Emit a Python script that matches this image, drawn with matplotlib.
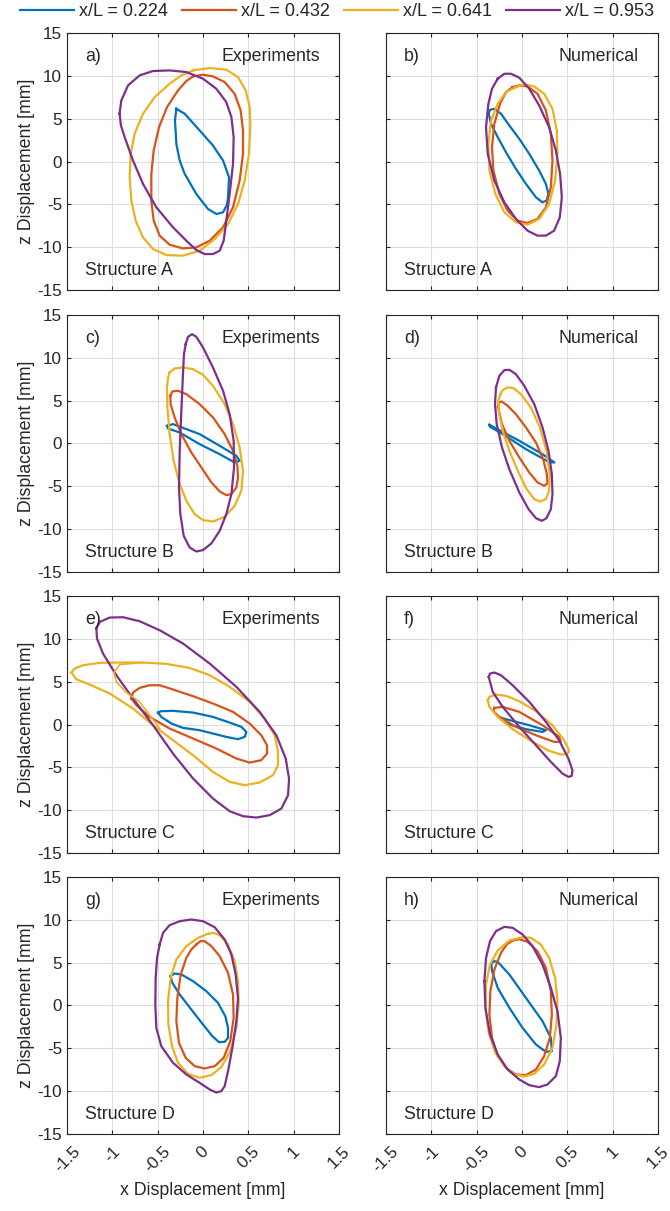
import numpy as np
import matplotlib.pyplot as plt
from matplotlib.lines import Line2D

plt.rcParams['font.family'] = ['Liberation Sans', 'DejaVu Sans']

series_labels = ['x/L = 0.224', 'x/L = 0.432', 'x/L = 0.641', 'x/L = 0.953']
series_colors = ['#0072BD', '#D95319', '#EDB120', '#7E2F8E']
panel_tags = ['a)', 'b)', 'c)', 'd)', 'e)', 'f)', 'g)', 'h)']
structures = ['Structure A', 'Structure B', 'Structure C', 'Structure D']
xtick_vals = [-1.5, -1, -0.5, 0, 0.5, 1, 1.5]
xtick_text = ['-1.5', '-1', '-0.5', '0', '0.5', '1', '1.5']
ytick_vals = [-15, -10, -5, 0, 5, 10, 15]
ytick_text = ['-15', '-10', '-5', '0', '5', '10', '15']

# orbit points (x [mm], z [mm])
# structure A, experiments
a_224 = [(-0.294, 6.16), (-0.202, 5.58), (-0.037, 3.63), (0.110, 1.87), (0.221, 0.12), (0.287, -1.83),
         (0.276, -4.17), (0.265, -5.03), (0.221, -5.93), (0.147, -6.12), (0.055, -5.54), (-0.074, -3.78),
         (-0.202, -1.44), (-0.257, 0.12), (-0.294, 2.07), (-0.309, 4.80)]
a_432 = [(-0.110, 9.94), (0.000, 10.14), (0.110, 9.94), (0.239, 9.28), (0.349, 7.91), (0.415, 5.97),
         (0.441, 3.63), (0.441, 0.90), (0.404, -2.22), (0.331, -5.34), (0.221, -7.68), (0.074, -9.24),
         (-0.074, -10.02), (-0.221, -10.14), (-0.368, -9.71), (-0.478, -8.65), (-0.544, -6.90), (-0.570, -4.56),
         (-0.570, -1.44), (-0.544, 1.29), (-0.485, 4.02), (-0.397, 6.35), (-0.276, 8.30), (-0.184, 9.40)]
a_641 = [(-0.110, 10.64), (0.074, 10.92), (0.257, 10.72), (0.386, 9.86), (0.471, 8.30), (0.515, 6.35),
         (0.522, 4.02), (0.507, 0.90), (0.460, -2.22), (0.386, -4.95), (0.276, -7.29), (0.129, -9.05),
         (-0.037, -10.41), (-0.221, -10.99), (-0.404, -10.92), (-0.551, -10.21), (-0.662, -8.85), (-0.743, -6.90),
         (-0.790, -4.56), (-0.809, -1.83), (-0.798, 0.90), (-0.754, 3.24), (-0.662, 5.58), (-0.533, 7.52),
         (-0.368, 9.08), (-0.239, 10.06)]
a_953 = [(-0.920, 5.60), (-0.901, 7.13), (-0.827, 8.89), (-0.699, 10.06), (-0.551, 10.57), (-0.368, 10.64),
         (-0.184, 10.45), (0.000, 9.67), (0.147, 8.50), (0.257, 6.94), (0.313, 5.19), (0.338, 2.85),
         (0.331, -0.27), (0.294, -3.78), (0.257, -6.90), (0.228, -9.24), (0.184, -10.41), (0.110, -10.80),
         (0.018, -10.80), (-0.074, -10.33), (-0.184, -9.24), (-0.331, -7.68), (-0.515, -5.34), (-0.662, -2.61),
         (-0.772, 0.12), (-0.864, 2.85), (-0.905, 4.20)]
# structure A, numerical
b_224 = [(-0.366, 5.58), (-0.352, 6.04), (-0.304, 6.16), (-0.231, 5.58), (-0.139, 4.21), (-0.029, 2.65),
         (0.081, 0.90), (0.190, -1.05), (0.264, -2.61), (0.293, -3.78), (0.271, -4.56), (0.227, -4.76),
         (0.154, -4.17), (0.044, -2.61), (-0.066, -0.86), (-0.176, 1.09), (-0.267, 2.85), (-0.341, 4.41)]
b_432 = [(-0.103, 8.69), (-0.029, 8.89), (0.062, 8.77), (0.172, 7.91), (0.264, 5.97), (0.319, 3.24),
         (0.337, 0.12), (0.319, -3.00), (0.264, -5.34), (0.172, -6.70), (0.062, -7.17), (-0.048, -6.90),
         (-0.158, -5.73), (-0.249, -3.78), (-0.315, -1.05), (-0.330, 1.68), (-0.304, 4.41), (-0.242, 6.74),
         (-0.176, 8.11)]
b_641 = [(-0.066, 8.69), (0.026, 9.01), (0.136, 8.77), (0.245, 7.91), (0.337, 6.16), (0.385, 3.63),
         (0.392, 0.90), (0.366, -2.22), (0.300, -4.95), (0.190, -6.71), (0.062, -7.37), (-0.066, -7.10),
         (-0.194, -5.93), (-0.293, -3.78), (-0.359, -1.05), (-0.370, 2.07), (-0.341, 4.80), (-0.267, 6.74),
         (-0.176, 8.11)]
b_953 = [(-0.267, 9.67), (-0.194, 10.25), (-0.121, 10.25), (-0.029, 9.79), (0.081, 8.50), (0.190, 6.55),
         (0.300, 4.02), (0.374, 1.29), (0.421, -1.44), (0.440, -4.17), (0.418, -6.51), (0.355, -8.07),
         (0.264, -8.65), (0.172, -8.65), (0.062, -8.07), (-0.066, -6.71), (-0.194, -4.76), (-0.304, -2.22),
         (-0.377, 0.90), (-0.396, 4.02), (-0.370, 6.74), (-0.330, 8.50)]
# structure B, experiments
c_224 = [(-0.397, 2.06), (-0.331, 2.26), (-0.037, 1.09), (0.184, -0.27), (0.368, -1.44), (0.404, -2.02),
         (0.349, -2.22), (0.184, -1.25), (-0.037, -0.08), (-0.257, 1.28), (-0.386, 1.75)]
c_432 = [(-0.360, 5.56), (-0.338, 6.07), (-0.276, 6.15), (-0.184, 5.76), (-0.037, 4.59), (0.110, 3.04),
         (0.239, 1.09), (0.331, -0.86), (0.379, -2.61), (0.386, -3.97), (0.368, -5.14), (0.313, -5.91),
         (0.257, -6.03), (0.184, -5.60), (0.092, -4.55), (-0.018, -2.80), (-0.129, -1.05), (-0.239, 1.09),
         (-0.313, 3.04), (-0.357, 4.59)]
c_641 = [(-0.368, 8.29), (-0.313, 8.76), (-0.221, 8.87), (-0.110, 8.68), (0.000, 8.02), (0.110, 6.73),
         (0.239, 4.59), (0.331, 2.26), (0.404, -0.47), (0.441, -3.19), (0.423, -5.52), (0.349, -7.28),
         (0.239, -8.56), (0.110, -9.11), (0.000, -8.95), (-0.092, -8.25), (-0.184, -6.69), (-0.257, -4.75),
         (-0.324, -2.02), (-0.368, 1.09), (-0.393, 4.20), (-0.397, 6.54), (-0.386, 7.70)]
c_953 = [(-0.191, 11.60), (-0.165, 12.45), (-0.121, 12.76), (-0.074, 12.45), (0.000, 11.21), (0.110, 8.87),
         (0.221, 6.15), (0.294, 3.42), (0.338, 0.31), (0.342, -2.80), (0.313, -5.91), (0.257, -8.25),
         (0.184, -10.19), (0.092, -11.67), (0.000, -12.45), (-0.074, -12.61), (-0.147, -12.14), (-0.213, -10.78),
         (-0.250, -8.25), (-0.265, -5.14), (-0.257, -0.86), (-0.239, 3.81), (-0.221, 8.09), (-0.210, 10.43)]
# structure B, numerical
d_224 = [(-0.359, 2.18), (-0.029, 0.31), (0.227, -1.25), (0.359, -2.22), (0.300, -2.18), (0.044, -0.66),
         (-0.212, 1.09), (-0.352, 1.95)]
d_432 = [(-0.264, 4.28), (-0.256, 4.79), (-0.223, 4.90), (-0.158, 4.40), (-0.066, 3.42), (0.044, 1.87),
         (0.154, 0.12), (0.234, -1.83), (0.275, -3.58), (0.282, -4.67), (0.245, -4.94), (0.172, -4.55),
         (0.081, -3.39), (-0.029, -1.63), (-0.139, 0.31), (-0.220, 2.26)]
d_641 = [(-0.238, 5.76), (-0.212, 6.23), (-0.158, 6.54), (-0.095, 6.46), (-0.011, 5.76), (0.099, 4.20),
         (0.198, 1.87), (0.271, -0.86), (0.308, -3.58), (0.300, -5.52), (0.264, -6.50), (0.198, -6.77),
         (0.136, -6.50), (0.051, -5.33), (-0.037, -3.39), (-0.139, -0.86), (-0.212, 1.48), (-0.256, 3.81),
         (-0.260, 4.98)]
d_953 = [(-0.286, 6.54), (-0.249, 7.90), (-0.194, 8.56), (-0.139, 8.60), (-0.066, 8.09), (0.026, 6.73),
         (0.136, 4.59), (0.227, 1.87), (0.293, -0.86), (0.330, -3.58), (0.337, -5.91), (0.319, -7.67),
         (0.271, -8.72), (0.220, -9.03), (0.154, -8.72), (0.073, -7.67), (-0.029, -5.72), (-0.139, -3.00),
         (-0.220, -0.47), (-0.278, 2.26), (-0.297, 4.59)]
# structure C, experiments
e_224 = [(-0.496, 1.40), (-0.460, 1.56), (-0.331, 1.60), (-0.110, 1.40), (0.110, 0.89), (0.294, 0.23),
         (0.423, -0.27), (0.478, -0.86), (0.460, -1.44), (0.386, -1.71), (0.257, -1.44), (0.110, -1.05),
         (-0.037, -0.66), (-0.221, -0.39), (-0.349, 0.12), (-0.460, 0.89)]
e_432 = [(-0.790, 3.03), (-0.772, 3.74), (-0.699, 4.28), (-0.588, 4.59), (-0.478, 4.59), (-0.331, 4.09),
         (-0.110, 3.31), (0.110, 2.45), (0.331, 1.48), (0.515, 0.12), (0.643, -1.25), (0.706, -2.41),
         (0.706, -3.39), (0.643, -4.16), (0.515, -4.44), (0.368, -3.97), (0.147, -2.80), (-0.110, -1.63),
         (-0.368, -0.47), (-0.588, 0.89), (-0.735, 2.26)]
e_641 = [(-1.452, 6.07), (-1.415, 6.54), (-1.324, 6.93), (-1.140, 7.20), (-0.919, 7.24), (-0.662, 7.24),
         (-0.404, 7.08), (-0.147, 6.61), (0.074, 5.76), (0.294, 4.40), (0.515, 2.65), (0.680, 0.70),
         (0.790, -1.25), (0.827, -3.19), (0.827, -4.75), (0.772, -5.91), (0.625, -6.77), (0.460, -7.08),
         (0.294, -6.69), (0.110, -5.53), (-0.110, -3.58), (-0.331, -1.83), (-0.551, -0.08), (-0.772, 1.87),
         (-1.029, 3.62), (-1.250, 4.67), (-1.397, 5.29)]
e_641_inner = [(-0.662, 7.24), (-0.919, 7.00), (-0.982, 6.07), (-0.956, 4.98), (-0.846, 3.74),
               (-0.699, 2.65), (-0.478, -0.47)]
e_953 = [(-1.176, 11.21), (-1.140, 11.98), (-1.029, 12.49), (-0.882, 12.53), (-0.699, 12.06), (-0.478, 11.01),
         (-0.221, 9.46), (0.074, 7.12), (0.368, 4.40), (0.625, 1.48), (0.809, -1.25), (0.912, -3.97),
         (0.949, -6.30), (0.938, -8.25), (0.864, -9.81), (0.735, -10.58), (0.588, -10.86), (0.441, -10.70),
         (0.294, -10.12), (0.110, -8.64), (-0.110, -6.30), (-0.331, -3.39), (-0.551, -0.08), (-0.772, 3.04),
         (-0.956, 5.76), (-1.103, 8.29), (-1.169, 10.04)]
# structure C, numerical
f_224 = [(-0.231, 0.78), (0.081, -0.08), (0.264, -0.66), (0.227, -0.86), (0.044, -0.54), (-0.139, 0.00),
         (-0.220, 0.51)]
f_432 = [(-0.304, 1.95), (-0.212, 2.06), (-0.029, 1.48), (0.227, -0.08), (0.410, -1.44), (0.429, -2.02),
         (0.355, -2.02), (0.154, -1.25), (-0.066, -0.27), (-0.249, 0.89), (-0.315, 1.56)]
f_641 = [(-0.377, 2.84), (-0.359, 3.23), (-0.286, 3.50), (-0.176, 3.35), (-0.029, 2.72), (0.154, 1.56),
         (0.337, -0.08), (0.465, -1.83), (0.520, -3.00), (0.502, -3.46), (0.429, -3.50), (0.300, -3.07),
         (0.117, -2.02), (-0.103, -0.54), (-0.267, 0.89), (-0.359, 2.06)]
f_953 = [(-0.366, 5.56), (-0.352, 5.95), (-0.304, 6.07), (-0.231, 5.76), (-0.103, 4.59), (0.081, 2.65),
         (0.264, 0.31), (0.410, -1.83), (0.513, -3.97), (0.557, -5.33), (0.549, -5.99), (0.513, -6.11),
         (0.447, -5.72), (0.319, -4.36), (0.154, -2.41), (-0.029, -0.27), (-0.212, 2.06), (-0.322, 3.81)]
# structure D, experiments
g_224 = [(-0.357, 3.42), (-0.313, 3.74), (-0.239, 3.62), (-0.110, 2.84), (0.037, 1.67), (0.165, 0.31),
         (0.246, -1.25), (0.276, -2.61), (0.276, -3.77), (0.239, -4.24), (0.176, -4.28), (0.103, -3.58),
         (0.000, -2.22), (-0.129, -0.47), (-0.257, 1.28), (-0.338, 2.65)]
g_432 = [(-0.074, 7.12), (-0.029, 7.51), (0.018, 7.51), (0.092, 6.93), (0.184, 5.76), (0.276, 3.81),
         (0.331, 1.28), (0.338, -1.44), (0.301, -4.16), (0.228, -6.11), (0.129, -7.08), (0.018, -7.35),
         (-0.092, -7.08), (-0.191, -6.11), (-0.265, -4.36), (-0.294, -1.83), (-0.283, 0.89), (-0.246, 3.62),
         (-0.184, 5.56), (-0.129, 6.54)]
g_641 = [(0.055, 8.37), (0.118, 8.48), (0.184, 8.21), (0.276, 7.12), (0.349, 5.18), (0.386, 2.84),
         (0.393, 0.12), (0.368, -2.61), (0.301, -5.33), (0.202, -7.20), (0.092, -8.13), (-0.037, -8.44),
         (-0.165, -7.98), (-0.276, -6.69), (-0.342, -4.75), (-0.382, -2.22), (-0.386, 0.51), (-0.357, 3.23),
         (-0.294, 5.37), (-0.184, 6.93), (-0.055, 7.90)]
g_953 = [(-0.478, 7.12), (-0.441, 8.48), (-0.368, 9.38), (-0.257, 9.84), (-0.129, 10.04), (0.000, 9.84),
         (0.129, 9.14), (0.239, 7.70), (0.313, 5.95), (0.360, 3.62), (0.386, 0.89), (0.368, -1.83),
         (0.324, -4.94), (0.276, -7.67), (0.239, -9.42), (0.202, -10.00), (0.147, -10.16), (0.074, -9.81),
         (-0.037, -9.03), (-0.184, -8.05), (-0.331, -6.69), (-0.460, -4.75), (-0.515, -2.61), (-0.526, 0.12),
         (-0.522, 3.23), (-0.507, 5.56)]
# structure D, numerical
h_224 = [(-0.315, 5.18), (-0.267, 5.10), (-0.139, 3.62), (0.044, 0.89), (0.227, -1.83), (0.319, -3.77),
         (0.330, -5.33), (0.264, -5.41), (0.154, -4.55), (0.007, -2.61), (-0.139, -0.27), (-0.267, 2.06),
         (-0.330, 4.01), (-0.337, 4.86)]
h_432 = [(-0.103, 7.59), (-0.029, 7.74), (0.062, 7.43), (0.172, 6.34), (0.264, 4.40), (0.319, 1.67),
         (0.330, -1.05), (0.308, -3.77), (0.245, -5.91), (0.154, -7.47), (0.044, -8.13), (-0.066, -8.05),
         (-0.176, -7.28), (-0.267, -5.91), (-0.330, -3.77), (-0.359, -1.05), (-0.348, 1.67), (-0.304, 4.20),
         (-0.231, 6.15), (-0.168, 7.12)]
h_641 = [(0.007, 7.98), (0.099, 7.90), (0.209, 7.12), (0.300, 5.56), (0.366, 3.23), (0.392, 0.51),
         (0.381, -2.22), (0.337, -4.94), (0.245, -6.89), (0.136, -7.98), (0.026, -8.29), (-0.084, -7.98),
         (-0.194, -7.08), (-0.293, -5.53), (-0.366, -3.19), (-0.403, -0.27), (-0.396, 2.45), (-0.352, 4.79),
         (-0.267, 6.42), (-0.139, 7.59)]
h_953 = [(-0.414, 2.84), (-0.396, 5.56), (-0.352, 7.51), (-0.286, 8.68), (-0.194, 9.18), (-0.103, 9.07),
         (0.007, 8.29), (0.117, 6.93), (0.227, 4.79), (0.319, 2.06), (0.392, -0.66), (0.429, -3.77),
         (0.418, -6.50), (0.374, -8.25), (0.282, -9.22), (0.190, -9.53), (0.081, -9.30), (-0.029, -8.64),
         (-0.158, -7.47), (-0.267, -5.72), (-0.352, -3.39), (-0.403, -0.27)]

panels = [[a_224, a_432, a_641, a_953], [b_224, b_432, b_641, b_953],
          [c_224, c_432, c_641, c_953], [d_224, d_432, d_641, d_953],
          [e_224, e_432, e_641, e_953], [f_224, f_432, f_641, f_953],
          [g_224, g_432, g_641, g_953], [h_224, h_432, h_641, h_953]]
extra_paths = {4: [(e_641_inner, 2)]}

ink = '#262626'
fs = 12.8
fig = plt.figure(figsize=(6.7, 12.11), dpi=100)

lefts = [0.100, 0.576]
bottoms = [0.7605, 0.5277, 0.2956, 0.0636]
w, h = 0.406, 0.2122

for k, orbits in enumerate(panels):
    row, col = divmod(k, 2)
    ax = fig.add_axes([lefts[col], bottoms[row], w, h])
    for pts, c in zip(orbits, series_colors):
        p = np.array(pts + [pts[0]])
        ax.plot(p[:, 0], p[:, 1], color=c, lw=1.6, solid_joinstyle='round')
    for pts, ci in extra_paths.get(k, []):
        p = np.array(pts)
        ax.plot(p[:, 0], p[:, 1], color=series_colors[ci], lw=1.2, solid_joinstyle='round')

    ax.set_xlim(-1.5, 1.5)
    ax.set_ylim(-15, 15)
    ax.set_xticks(xtick_vals)
    ax.set_yticks(ytick_vals)
    ax.grid(True, color='#dedede', lw=0.8)
    ax.set_axisbelow(True)
    ax.tick_params(direction='in', top=True, right=True, length=3, width=0.8,
                   color=ink, labelcolor=ink, labelsize=12.3)
    for s in ax.spines.values():
        s.set_color(ink)
        s.set_linewidth(0.8)

    if col == 0:
        ax.set_yticklabels(ytick_text)
        ax.set_ylabel('z Displacement [mm]', fontsize=fs, color=ink, labelpad=2)
    else:
        ax.set_yticklabels([])
    if row == 3:
        ax.set_xticklabels(xtick_text, rotation=45, ha='center')
        ax.tick_params(axis='x', pad=7)
        ax.set_xlabel('x Displacement [mm]', fontsize=fs, color=ink, labelpad=5)
    else:
        ax.set_xticklabels([])

    ax.text(-1.3, 12.3, panel_tags[k], fontsize=fs, color=ink, ha='left', va='center')
    ax.text(1.29, 12.3, 'Experiments' if col == 0 else 'Numerical', fontsize=fs, color=ink,
            ha='right', va='center')
    ax.text(-1.3, -12.7, structures[row], fontsize=fs, color=ink, ha='left', va='center')

handles = [Line2D([0], [0], color=c, lw=1.6) for c in series_colors]
fig.legend(handles, series_labels, loc='center', bbox_to_anchor=(0.503, 1 - 12 / 1211), ncol=4,
           frameon=False, fontsize=13, handlelength=3.0, handletextpad=0.3, columnspacing=0.75,
           labelcolor=ink)

fig.savefig('out.png', dpi=100)
